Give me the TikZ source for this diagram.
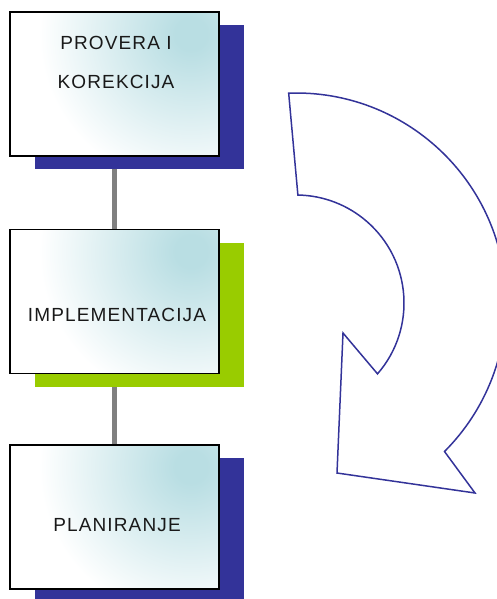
\documentclass[tikz,border=0pt]{standalone}
\usepackage{fontspec}
\usepackage{tikz}
\usetikzlibrary{shadows, backgrounds, calc}
\newfontfamily\stagefont[LetterSpace=6]{Liberation Sans}
\definecolor{cyclenavy}{HTML}{333399}
\definecolor{cyclegreen}{HTML}{99CC00}
\definecolor{cycleteal}{HTML}{B9DEE3}
\definecolor{linkgray}{HTML}{808080}
\pgfdeclareradialshading{stageglow}{\pgfpoint{0bp}{0bp}}{%
  color(0bp)=(cycleteal); color(2bp)=(cycleteal);
  color(19bp)=(white); color(50bp)=(white)}

\begin{document}
\begin{tikzpicture}[x=1pt, y=-1pt,
    stage/.style={rectangle, draw=black, line width=1.5pt, fill=white,
                  minimum width=209pt, minimum height=144pt, inner sep=0pt,
                  path picture={\shade[shading=stageglow]
                      ($(path picture bounding box.north east)+(-28pt,-22pt)$) circle (200pt);},
                  general shadow={fill=#1, shadow xshift=25pt, shadow yshift=-13pt}},
    link/.style={line width=4.5pt, color=linkgray},
    caption/.style={font=\stagefont\fontsize{19}{39}\selectfont, align=center, text=black!90},
    turn/.style={draw=cyclenavy, line width=1.5pt, line join=miter}
]
\useasboundingbox (0,0) rectangle (497,599);

\node[stage=cyclenavy]  (prov) at (114.5,84)  {};
\node[stage=cyclegreen] (impl) at (114.5,301.5) {};
\node[stage=cyclenavy]  (plan) at (114.5,517) {};

\begin{scope}[on background layer]
\draw[link] (prov.south) -- (impl.north);
\draw[link] (impl.south) -- (plan.north);
\end{scope}

\node[caption] (provtxt) at (116,62)  {PROVERA I\\KOREKCIJA};
\node[caption] (impltxt) at (117,315) {IMPLEMENTACIJA};
\node[caption] (plantxt) at (117,525) {PLANIRANJE};

% curved arrow
\coordinate (hub) at (296,303);
\draw[turn] ($(hub)+(-92:210)$) arc[start angle=-92, end angle=45, radius=210]
    -- (475,493) -- (337,473) -- (343,333) -- ($(hub)+(41:108)$)
    arc[start angle=41, end angle=-89, radius=108] -- cycle;
\end{tikzpicture}
\end{document}
